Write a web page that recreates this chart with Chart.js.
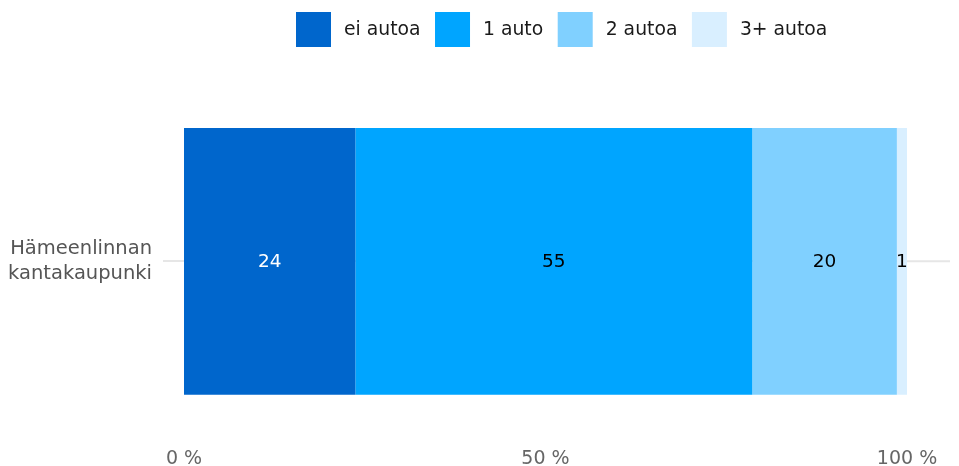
<!DOCTYPE html>
<html><head><meta charset="utf-8">
<script src="https://cdn.jsdelivr.net/npm/chart.js@4"></script>
<style>html,body{margin:0;padding:0;background:#fff}#wrap{width:959px;height:466px;position:relative}</style>
</head><body><div id="wrap"><canvas id="c"></canvas></div>
<script>
const categories = [['Hämeenlinnan', 'kantakaupunki']];
const seriesNames = ['ei autoa', '1 auto', '2 autoa', '3+ autoa'];
// shares in percent (labels show them rounded)
const eiAutoa = [23.7];
const yksiAuto = [54.9];
const kaksiAutoa = [20.0];
const kolmePlusAutoa = [1.4];
const xTickValues = [0, 50, 100];

const colors = ['#0066cc', '#00a5ff', '#80d0ff', '#d9efff'];
const valueColors = ['#ffffff', '#000000', '#000000', '#000000'];
const FONT = "'DejaVu Sans', Verdana, sans-serif";

const seriesValues = [eiAutoa, yksiAuto, kaksiAutoa, kolmePlusAutoa];

const datasets = seriesNames.map((name, i) => ({
  label: name,
  data: seriesValues[i],
  backgroundColor: colors[i],
  borderWidth: 0,
  barPercentage: 0.788,
  categoryPercentage: 1
}));

const valueLabels = {
  id: 'valueLabels',
  afterDatasetsDraw(chart) {
    const ctx = chart.ctx;
    ctx.save();
    ctx.font = '18.5px ' + FONT;
    ctx.textAlign = 'center';
    ctx.textBaseline = 'middle';
    chart.data.datasets.forEach((ds, i) => {
      const meta = chart.getDatasetMeta(i);
      meta.data.forEach((bar, j) => {
        const p = bar.getProps(['x', 'y', 'base'], true);
        const cx = (p.x + p.base) / 2;
        ctx.fillStyle = valueColors[i];
        ctx.fillText(String(Math.round(ds.data[j])), cx, p.y + 1);
      });
    });
    ctx.restore();
  }
};

const extraGrid = {
  id: 'extraGrid',
  beforeDatasetsDraw(chart) {
    const y = chart.scales.y;
    const ctx = chart.ctx;
    ctx.save();
    ctx.strokeStyle = '#e6e6e6';
    ctx.lineWidth = 2;
    y.ticks.forEach((t, i) => {
      const py = y.getPixelForTick(i);
      ctx.beginPath();
      ctx.moveTo(chart.chartArea.right, py);
      ctx.lineTo(chart.chartArea.right + 43, py);
      ctx.stroke();
    });
    ctx.restore();
  }
};

// Legend drawn from the chart's own datasets (names and colours)
const topLegend = {
  id: 'topLegend',
  afterDraw(chart) {
    const ctx = chart.ctx;
    ctx.save();
    ctx.font = '18.8px ' + FONT;
    ctx.textAlign = 'left';
    ctx.textBaseline = 'middle';
    let x = 296;
    const top = 12, box = 35;
    chart.data.datasets.forEach(ds => {
      ctx.fillStyle = ds.backgroundColor;
      ctx.fillRect(x, top, box, box);
      ctx.fillStyle = '#1a1a1a';
      ctx.fillText(ds.label, x + 48, top + box / 2 + 1);
      x += 48 + ctx.measureText(ds.label).width + 14.5;
    });
    ctx.restore();
  }
};

new Chart(document.getElementById('c'), {
  type: 'bar',
  data: { labels: categories, datasets },
  plugins: [extraGrid, valueLabels, topLegend],
  options: {
    indexAxis: 'y',
    responsive: true,
    maintainAspectRatio: false,
    animation: false,
    layout: { padding: { left: 0, right: 52, top: 92, bottom: 0 } },
    scales: {
      x: {
        stacked: true,
        min: 0,
        max: 100,
        afterBuildTicks(scale) { scale.ticks = xTickValues.map(v => ({ value: v })); },
        afterFit(scale) { scale.height = 34; },
        grid: { display: false, drawTicks: false },
        border: { display: false },
        ticks: {
          padding: 17,
          color: '#666666',
          font: { family: FONT, size: 19 },
          callback: v => v + ' %'
        }
      },
      y: {
        stacked: true,
        afterFit(scale) { scale.width = 184; },
        grid: { offset: false, color: '#e6e6e6', lineWidth: 2, tickLength: 21, drawTicks: true },
        border: { display: false },
        ticks: {
          padding: 11,
          color: '#555555',
          font: { family: FONT, size: 19.5, lineHeight: 1.25 }
        }
      }
    },
    plugins: {
      tooltip: { enabled: false },
      legend: { display: false }
    }
  }
});
</script>
</body></html>
